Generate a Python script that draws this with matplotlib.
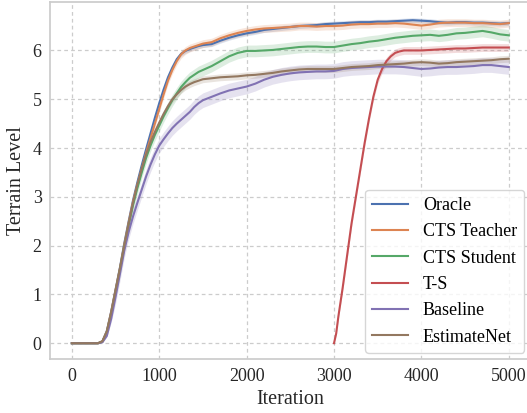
import numpy as np
import matplotlib
matplotlib.use('Agg')
import matplotlib.pyplot as plt

plt.rcParams['font.family'] = ['Liberation Serif', 'DejaVu Serif']

# iterations: every 50 up to 1450, then every 100
iters = list(range(0, 1500, 50)) + list(range(1500, 5001, 100))

oracle = [0, 0, 0, 0, 0, 0, 0, 0.04, 0.25, 0.65, 1.1, 1.55, 2.05, 2.5, 2.93, 3.3, 3.65, 3.98, 4.3, 4.62,
          4.92, 5.2, 5.45, 5.65, 5.82, 5.93, 5.99, 6.03, 6.06, 6.09,
          6.11, 6.13, 6.2, 6.26, 6.31, 6.35, 6.38, 6.42, 6.44, 6.46, 6.48, 6.5, 6.51, 6.52, 6.54, 6.55,
          6.56, 6.57, 6.58, 6.58, 6.59, 6.59, 6.6, 6.61, 6.62, 6.61, 6.6, 6.58, 6.57, 6.58, 6.58, 6.57,
          6.57, 6.56, 6.55, 6.56]
cts_teacher = [0, 0, 0, 0, 0, 0, 0, 0.04, 0.24, 0.64, 1.09, 1.53, 2.02, 2.47, 2.9, 3.25, 3.58, 3.9, 4.2, 4.5,
               4.8, 5.1, 5.38, 5.6, 5.78, 5.92, 6.0, 6.05, 6.08, 6.11,
               6.14, 6.17, 6.25, 6.31, 6.36, 6.4, 6.43, 6.45, 6.46, 6.47, 6.48, 6.5, 6.5, 6.49, 6.5, 6.5,
               6.51, 6.53, 6.54, 6.54, 6.55, 6.55, 6.56, 6.55, 6.53, 6.51, 6.53, 6.56, 6.57, 6.57, 6.57, 6.56,
               6.56, 6.55, 6.54, 6.56]
cts_student = [0, 0, 0, 0, 0, 0, 0, 0.03, 0.22, 0.6, 1.05, 1.5, 1.98, 2.42, 2.83, 3.18, 3.5, 3.8, 4.05, 4.27,
               4.46, 4.65, 4.82, 4.98, 5.12, 5.25, 5.35, 5.44, 5.5, 5.56,
               5.6, 5.68, 5.78, 5.88, 5.95, 5.99, 5.99, 6.0, 6.01, 6.03, 6.05, 6.07, 6.08, 6.08, 6.07, 6.07,
               6.1, 6.13, 6.15, 6.18, 6.2, 6.23, 6.26, 6.28, 6.3, 6.31, 6.32, 6.3, 6.32, 6.35, 6.36, 6.38,
               6.4, 6.37, 6.33, 6.31]
baseline = [0, 0, 0, 0, 0, 0, 0, 0.02, 0.15, 0.5, 0.95, 1.42, 1.9, 2.28, 2.6, 2.88, 3.15, 3.42, 3.66, 3.87,
            4.05, 4.18, 4.3, 4.41, 4.5, 4.58, 4.66, 4.74, 4.84, 4.92,
            4.98, 5.05, 5.12, 5.18, 5.22, 5.26, 5.32, 5.4, 5.46, 5.5, 5.53, 5.55, 5.56, 5.57, 5.57, 5.58,
            5.62, 5.64, 5.65, 5.66, 5.67, 5.67, 5.67, 5.66, 5.64, 5.62, 5.63, 5.65, 5.66, 5.66, 5.67, 5.68,
            5.7, 5.7, 5.68, 5.66]
estimatenet = [0, 0, 0, 0, 0, 0, 0, 0.04, 0.24, 0.63, 1.08, 1.53, 2.0, 2.45, 2.87, 3.25, 3.58, 3.87, 4.12, 4.33,
               4.52, 4.7, 4.86, 5.0, 5.1, 5.19, 5.26, 5.31, 5.35, 5.38,
               5.41, 5.43, 5.45, 5.46, 5.47, 5.49, 5.5, 5.52, 5.54, 5.57, 5.59, 5.61, 5.62, 5.62, 5.62, 5.62,
               5.64, 5.66, 5.67, 5.68, 5.7, 5.71, 5.72, 5.73, 5.75, 5.76, 5.75, 5.73, 5.74, 5.76, 5.77, 5.78,
               5.79, 5.8, 5.82, 5.83]

# T-S only starts at 3000
ts_iters = [3000, 3025, 3050, 3100, 3150, 3200, 3250, 3300, 3350, 3400, 3450, 3500, 3550, 3600, 3650,
            3700, 3750, 3800, 3900, 4000, 4100, 4200, 4300, 4400, 4500, 4600, 4700, 4800, 4900, 5000]
t_s = [0, 0.2, 0.55, 1.15, 1.8, 2.45, 3.0, 3.55, 4.1, 4.6, 5.05, 5.4, 5.62, 5.78, 5.88,
       5.95, 5.98, 6.0, 6.0, 6.0, 6.01, 6.02, 6.03, 6.04, 6.04, 6.05, 6.06, 6.06, 6.06, 6.06]

labels = ['Oracle', 'CTS Teacher', 'CTS Student', 'T-S', 'Baseline', 'EstimateNet']
# rough spread of the shaded band for each run
spread = [0.05, 0.08, 0.12, 0.08, 0.15, 0.07]
colors = ['#4C72B0', '#DD8452', '#55A868', '#C44E52', '#8172B3', '#937860']

series = [(iters, oracle), (iters, cts_teacher), (iters, cts_student),
          (ts_iters, t_s), (iters, baseline), (iters, estimatenet)]

fig = plt.figure(figsize=(5.27, 4.13), dpi=100)
ax = fig.add_axes([0.0949, 0.130, 0.912, 0.866])

for (x, y), lab, s, c in zip(series, labels, spread, colors):
    x = np.array(x)
    y = np.array(y)
    band = s * np.clip(y, 0, 1)
    ax.fill_between(x, y - band, y + band, color=c, alpha=0.2, linewidth=0)
    ax.plot(x, y, color=c, lw=1.5, label=lab)

ax.set_xlim(-250, 5250)
ax.set_ylim(-0.33, 7.0)
ax.set_xticks([0, 1000, 2000, 3000, 4000, 5000])
ax.set_yticks([0, 1, 2, 3, 4, 5, 6])
ax.tick_params(length=0, pad=6, labelsize=13, labelcolor='#262626')
ax.set_xlabel('Iteration', fontsize=14.5, color='#262626', labelpad=4)
ax.set_ylabel('Terrain Level', fontsize=14.5, color='#262626', labelpad=5)
ax.grid(True, color='#cccccc', lw=0.9, linestyle=(0, (3, 2.5)))
ax.set_axisbelow(True)
for sp in ax.spines.values():
    sp.set_color('#cccccc')
    sp.set_linewidth(1.25)

leg = ax.legend(loc='lower right', fontsize=13, labelspacing=0.52, borderaxespad=0.35)
leg.get_frame().set_edgecolor('#cccccc')

plt.savefig('out.png', dpi=100)
